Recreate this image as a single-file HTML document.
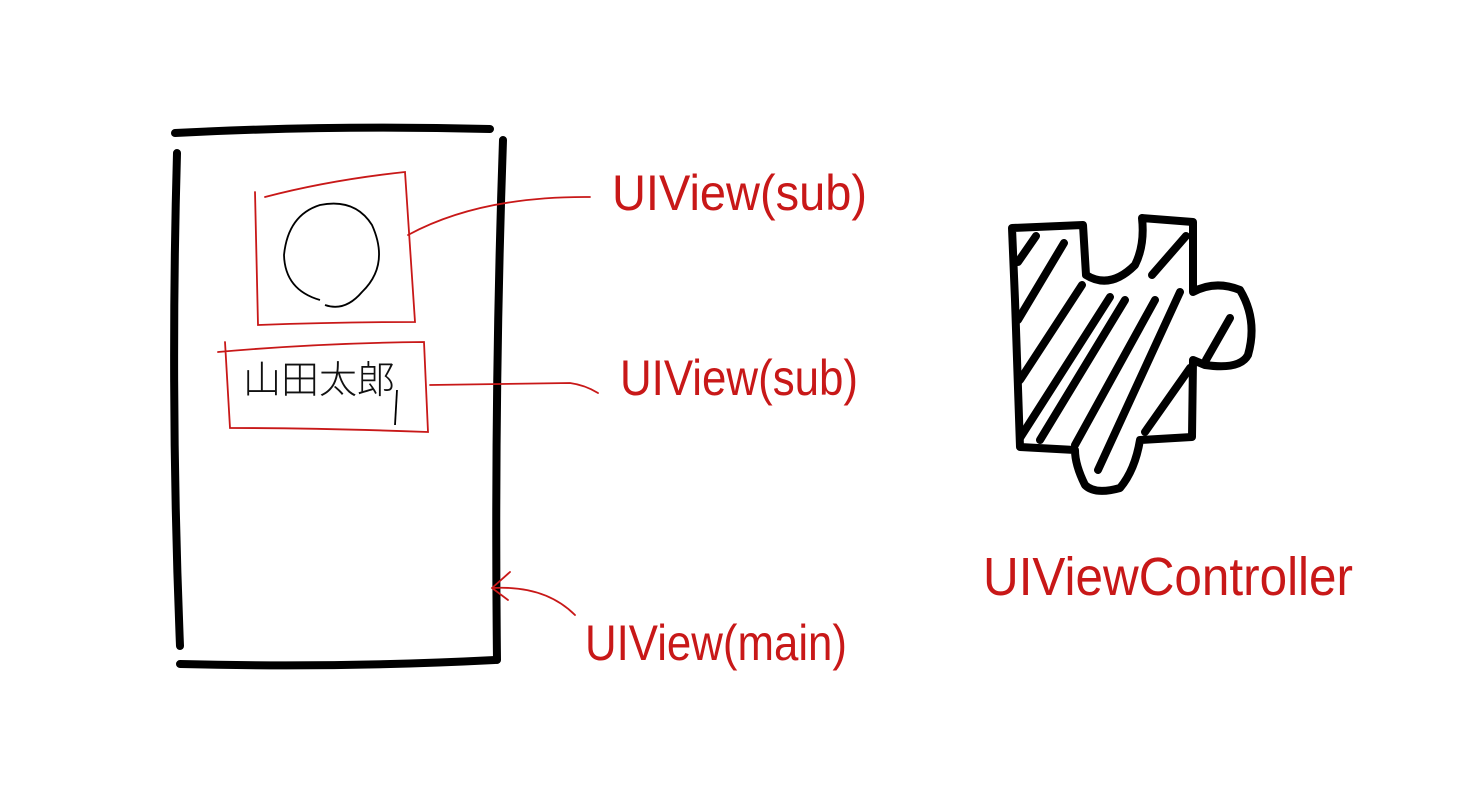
<!DOCTYPE html>
<html><head><meta charset="utf-8"><style>
html,body{margin:0;padding:0;background:#fff;}
svg{display:block;}
.lbl{font-family:"Liberation Sans","Noto Sans CJK JP",sans-serif;font-weight:normal;fill:#c81818;}
</style></head><body>
<svg width="1480" height="795" viewBox="0 0 1480 795" xmlns="http://www.w3.org/2000/svg">
<rect width="1480" height="795" fill="#fff"/>
<g fill="none" stroke="#000" stroke-width="8" stroke-linecap="round" stroke-linejoin="round">
<path d="M175 133 Q330 125 490 129"/>
<path d="M177 153 Q170 400 180 646"/>
<path d="M180 664 Q340 668 495 660"/>
<path d="M503 140 Q494 400 497 660"/>
</g>
<g fill="none" stroke="#c81818" stroke-width="1.8" stroke-linecap="round">
<path d="M255 192 L258 325 Q340 322 415 322 L405 172 Q330 180 265 197"/>
<path d="M218 352 Q320 343 424 342 L428 432 Q320 428 230 428 L225 342"/>
<path d="M408 235 Q480 196 590 197"/>
<path d="M430 385 L570 383 Q585 385 598 393"/>
<path d="M575 615 Q545 585 492 588 M492 588 L510 572 M492 588 L508 600"/>
</g>
<path d="M320 300 Q285 290 284 255 Q288 215 320 205 Q355 198 372 225 Q390 265 362 292 Q345 312 325 305" fill="none" stroke="#000" stroke-width="1.8"/>
<text x="243" y="393" font-family="'Noto Sans CJK JP',sans-serif" font-size="38" font-weight="300" fill="#111">山田太郎</text>
<path d="M397 390 L395 425" stroke="#000" stroke-width="1.8"/>
<text class="lbl" x="612" y="210" font-size="50" textLength="255" lengthAdjust="spacingAndGlyphs">UIView(sub)</text>
<text class="lbl" x="620" y="395" font-size="50" textLength="238" lengthAdjust="spacingAndGlyphs">UIView(sub)</text>
<text class="lbl" x="585" y="660" font-size="50" textLength="262" lengthAdjust="spacingAndGlyphs">UIView(main)</text>
<text class="lbl" x="983" y="595" font-size="54" textLength="370" lengthAdjust="spacingAndGlyphs">UIViewController</text>
<g fill="none" stroke="#000" stroke-width="8" stroke-linecap="round" stroke-linejoin="round">
<path d="M1012 228 L1083 225 L1086 275 Q1110 290 1135 265 Q1145 245 1142 218 L1193 222 L1193 292 Q1215 280 1240 290 Q1258 320 1248 355 Q1240 370 1205 365 L1193 360 L1192 437 L1140 440 Q1135 470 1120 488 Q1095 495 1085 485 Q1075 465 1075 450 L1020 447 L1015 300 Z"/>
<path d="M1018 262 L1036 236 M1018 320 L1064 243 M1020 380 L1082 285 M1020 438 L1110 297 M1040 440 L1125 300 M1075 445 L1155 300 M1098 470 L1180 292 M1145 432 L1190 368 M1206 360 L1230 318 M1152 275 L1186 236"/>
</g>
</svg>
</body></html>
